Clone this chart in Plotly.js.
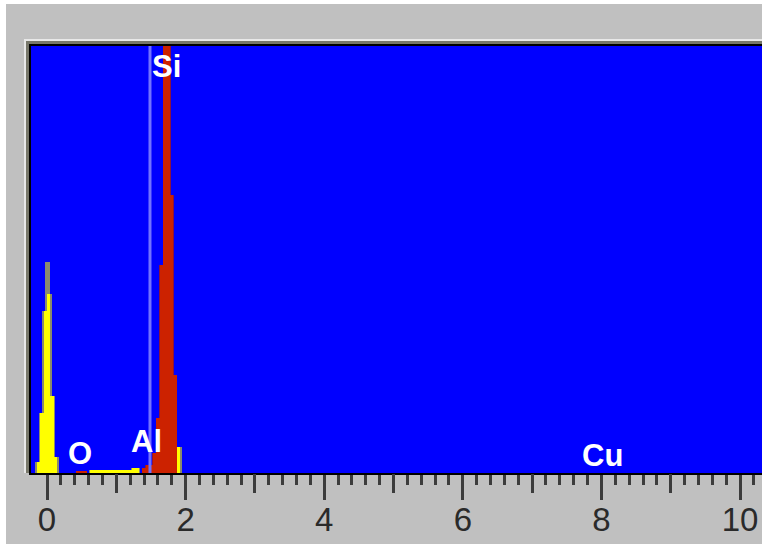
<!DOCTYPE html>
<html>
<head>
<meta charset="utf-8">
<script src="https://cdn.plot.ly/plotly-3.0.1.min.js"></script>
<style>
  html, body { margin: 0; padding: 0; background: #ffffff; width: 762px; height: 544px; overflow: hidden; }
  #chart { position: absolute; left: 6px; top: 4px; width: 756px; height: 540px; }
</style>
</head>
<body>
<div id="chart"></div>
<script>
// ---- data (energy in keV, counts as % of full scale) ----
const yellowKeV = [-0.125, -0.075, -0.025, 0.025, 0.075, 0.125,
                   0.65, 0.70, 0.75, 0.80, 0.85, 0.90, 0.95, 1.00, 1.05, 1.10, 1.15, 1.20,
                   1.25, 1.30, 1.90];
const yellowCounts = [2.6, 14, 38, 42, 18, 3.8,
                      0.7, 0.7, 0.7, 0.7, 0.7, 0.7, 0.7, 0.7, 0.7, 0.7, 0.7, 0.7,
                      1.2, 1.2, 6.1];
const spikeKeV = [0.005];
const spikeCounts = [49.5];
const siKeV = [0.45, 0.50, 0.55, 1.40, 1.45, 1.50, 1.55, 1.60, 1.65, 1.70, 1.75, 1.80, 1.85];
const siCounts = [0.5, 0.5, 0.5, 1.2, 1.8, 1.9, 4.7, 12.9, 48.7, 100, 100, 65.1, 23];
const markerLineKeV = 1.486;           // Al K-alpha marker
const elementLabels = ['Si', 'Al', 'O', 'Cu'];
const labelKeV = [1.72, 1.44, 0.476, 8.02];
const labelLevel = [95.3, 7.4, 4.6, 4.0];
const majorTicks = [0, 2, 4, 6, 8, 10];
const midTicks = [1, 3, 5, 7, 9];

// ---- geometry ----
const plotW = 731, plotH = 427;
const px = v => v / plotW, py = v => v / plotH;

const minorTicks = [];
for (let i = 1; i <= 51; i++) {
  const v = Math.round(i * 0.2 * 10) / 10;
  if (Math.abs(v - Math.round(v)) > 1e-6) minorTicks.push(v);
}

const traces = [
  { type: 'bar', x: yellowKeV, y: yellowCounts, width: 0.09, marker: { color: '#8a8a6a' }, hoverinfo: 'none' },
  { type: 'bar', x: spikeKeV, y: spikeCounts, width: 0.07, marker: { color: '#8a8a70' }, hoverinfo: 'none' },
  { type: 'bar', x: yellowKeV, y: yellowCounts, width: 0.05, marker: { color: '#ffff00' }, hoverinfo: 'none' },
  { type: 'bar', x: siKeV, y: siCounts, width: 0.065, marker: { color: '#8a1440' }, hoverinfo: 'none' },
  { type: 'bar', x: siKeV, y: siCounts, width: 0.05, marker: { color: 'rgb(204,34,0)' }, hoverinfo: 'none' },
  { type: 'scatter', x: [], y: [], xaxis: 'x2', yaxis: 'y', hoverinfo: 'none' }
];

const annotations = elementLabels.map((t, i) => ({
  x: labelKeV[i], y: labelLevel[i], xref: 'x', yref: 'y',
  text: t, showarrow: false, xanchor: 'center', yanchor: 'middle',
  font: { family: 'Liberation Sans, Arial, sans-serif', size: 31, color: '#ffffff', weight: 'bold' }
}));

const shapes = [
  { type: 'line', xref: 'x', yref: 'paper', x0: markerLineKeV, x1: markerLineKeV, y0: 0, y1: 1,
    line: { color: 'rgb(115,115,255)', width: 3 }, layer: 'above' },
  // 3D frame around plot (left & top)
  { type: 'line', xref: 'paper', yref: 'paper', x0: -px(3.5), x1: -px(3.5), y0: 0, y1: 1 + py(5),
    line: { color: '#77776a', width: 3 } },
  { type: 'line', xref: 'paper', yref: 'paper', x0: -px(5), x1: 1.1, y0: 1 + py(3.5), y1: 1 + py(3.5),
    line: { color: '#77776a', width: 3 } },
  { type: 'line', xref: 'paper', yref: 'paper', x0: -px(6), x1: -px(6), y0: 0, y1: 1 + py(7),
    line: { color: '#e8e8e8', width: 2 } },
  { type: 'line', xref: 'paper', yref: 'paper', x0: -px(7), x1: 1.1, y0: 1 + py(6), y1: 1 + py(6),
    line: { color: '#e8e8e8', width: 2 } }
];

const layout = {
  width: 756, height: 540,
  margin: { l: 25, r: 0, t: 42, b: 71, pad: 0 },
  paper_bgcolor: '#c0c0c0', plot_bgcolor: '#0000ff',
  showlegend: false, barmode: 'overlay', bargap: 0,
  xaxis: {
    range: [-0.231, 10.317], showgrid: false, zeroline: false,
    showline: true, linecolor: '#000000', linewidth: 2, mirror: true,
    ticks: 'outside', tickmode: 'array', tickvals: majorTicks, ticktext: majorTicks.map(String),
    ticklen: 25, tickwidth: 3, tickcolor: '#3c3c3c', ticklabelstandoff: -9,
    tickfont: { family: 'Liberation Sans, Arial, sans-serif', size: 33, color: '#2a2a2a' },
    minor: { tickmode: 'array', tickvals: minorTicks, ticks: 'outside', ticklen: 10, tickwidth: 3, tickcolor: '#3c3c3c', showgrid: false }
  },
  xaxis2: {
    overlaying: 'x', matches: 'x', anchor: 'y', side: 'bottom',
    showgrid: false, zeroline: false, showline: false, showticklabels: false,
    ticks: 'outside', tickmode: 'array', tickvals: midTicks, ticklen: 19, tickwidth: 3, tickcolor: '#3c3c3c'
  },
  yaxis: {
    range: [0, 100], showgrid: false, zeroline: false, showticklabels: false, ticks: '',
    showline: true, linecolor: '#000000', linewidth: 2
  },
  annotations: annotations,
  shapes: shapes
};

Plotly.newPlot('chart', traces, layout, { displayModeBar: false, staticPlot: true });
</script>
</body>
</html>
